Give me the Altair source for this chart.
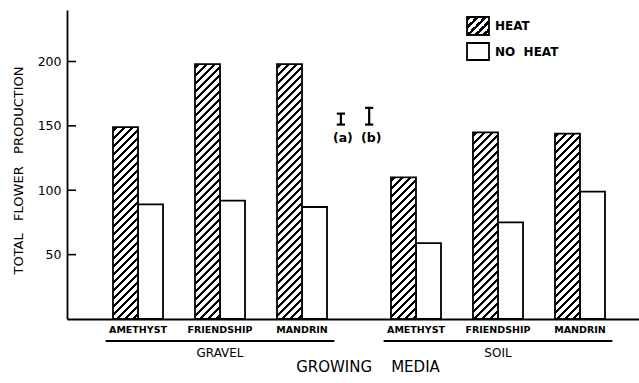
import altair as alt
import pandas as pd

# Total flower production by growing medium, cultivar and heat treatment
media = ["GRAVEL", "SOIL"]
cultivars = ["AMETHYST", "FRIENDSHIP", "MANDRIN"]
heat = [149, 198, 198, 110, 145, 144]        # gravel x3, then soil x3
no_heat = [89, 92, 87, 59, 75, 99]
y_ticks = [50, 100, 150, 200]
lsd_labels = ["(a)", "(b)"]
lsd_values = [8.5, 13]
legend_labels = ["HEAT", "NO\u00a0\u00a0HEAT"]

# plot geometry
W, H = 572, 309
Y_MAX = 240
SLOT_PX = 82.0                 # one cultivar slot on the x scale, in pixels
X_MAX = W / SLOT_PX
FIRST = 0.866                  # centre of the first bar pair (slot units)
GROUP_SHIFT = 3.39             # offset of the soil group
BAR = 0.305                    # bar width (slot units)
PX_PER_Y = H / Y_MAX
BAR_PX = BAR * SLOT_PX
FONT = "DejaVu Sans"
LSD_X0, LSD_DX, LSD_BASE = 3.34, 0.345, 151


def hatch(w, h, period=8.0, ink=3.4, phase=2.0):
    """45-degree '/' hatching as a bbox linear gradient for a w x h px rect."""
    span = w + h
    s = span / (h * (1 + (w / h) ** 2))
    stops = [alt.GradientStop(offset=0, color="white")]
    k = phase
    while k < span:
        a = round(k / span, 5)
        b = round(min((k + ink) / span, 1.0), 5)
        stops += [
            alt.GradientStop(offset=a, color="white"),
            alt.GradientStop(offset=a, color="black"),
            alt.GradientStop(offset=b, color="black"),
            alt.GradientStop(offset=b, color="white"),
        ]
        k += period
    return alt.LinearGradient(gradient="linear", stops=stops,
                              x1=0, y1=0, x2=w / h * s, y2=s)


rows = []
for gi, m in enumerate(media):
    for ci, c in enumerate(cultivars):
        k = gi * 3 + ci
        rows.append({"medium": m, "cultivar": c, "gi": gi, "ci": ci, "k": k,
                     "heat": heat[k], "noheat": no_heat[k]})
pairs = pd.DataFrame(rows)

xs = alt.Scale(domain=[0, X_MAX], nice=False, zero=False)
ys = alt.Scale(domain=[0, Y_MAX], nice=False)

base = alt.Chart(pairs).transform_calculate(
    center=f"{FIRST} + datum.ci + datum.gi * {GROUP_SHIFT}"
)

no_heat_bars = base.transform_calculate(
    x0="datum.center", x1=f"datum.center + {BAR}"
).mark_rect(fill="white", stroke="black", strokeWidth=1.8).encode(
    x=alt.X("x0:Q", scale=xs, axis=alt.Axis(
        labels=False, ticks=False, grid=False, title=None,
        domainColor="black", domainWidth=1.8)),
    x2="x1:Q",
    y=alt.Y("noheat:Q", scale=ys, axis=alt.Axis(
        values=y_ticks, ticks=False, grid=False, labelPadding=6,
        labelFont=FONT, labelFontSize=12.5, labelColor="black",
        domainColor="black", domainWidth=1.8,
        title="TOTAL\u00a0\u00a0\u00a0FLOWER\u00a0\u00a0\u00a0PRODUCTION",
        titleFont=FONT, titleFontSize=13, titleFontWeight="normal",
        titleColor="black", titleAngle=270, titleX=-49, titleY=160,
        titleAlign="center", titleBaseline="middle")),
    y2=alt.datum(0),
)

heat_layers = []
for k, v in enumerate(heat):
    heat_layers.append(
        base.transform_filter(f"datum.k == {k}")
        .transform_calculate(x0=f"datum.center - {BAR}", x1="datum.center")
        .mark_rect(fill=hatch(BAR_PX, v * PX_PER_Y), stroke="black", strokeWidth=1.8)
        .encode(x="x0:Q", x2="x1:Q", y="heat:Q", y2=alt.datum(0))
    )

# inward tick marks on the value axis
tick_marks = alt.Chart(pd.DataFrame({"t": y_ticks})).mark_rule(
    stroke="black", strokeWidth=1.6
).encode(y="t:Q", x=alt.value(0), x2=alt.value(9))

cult_text = base.mark_text(
    font=FONT, fontSize=9.5, fontWeight="bold", baseline="middle", align="center", color="black"
).encode(x="center:Q", y=alt.value(H + 11), text="cultivar:N")

groups = alt.Chart(pd.DataFrame({"medium": media, "gi": [0, 1]})).transform_calculate(
    left=f"{FIRST} - {BAR} - 0.09 + datum.gi * {GROUP_SHIFT}",
    right=f"{FIRST} + 2 + {BAR} + 0.09 + datum.gi * {GROUP_SHIFT}",
).transform_calculate(mid="(datum.left + datum.right) / 2")
underline = groups.mark_rule(strokeWidth=1.8, color="black").encode(
    x="left:Q", x2="right:Q", y=alt.value(H + 22))
group_text = groups.mark_text(font=FONT, fontSize=12, baseline="middle", color="black").encode(
    x="mid:Q", y=alt.value(H + 33.5), text="medium:N")

x_title = alt.Chart(pd.DataFrame({"t": ["GROWING\u00a0\u00a0\u00a0\u00a0MEDIA"]})).mark_text(
    font=FONT, fontSize=15, baseline="middle", color="black"
).encode(x=alt.value(301), y=alt.value(H + 48), text="t:N")

# least significant difference bars
lsd = alt.Chart(pd.DataFrame({"label": lsd_labels, "lsd": lsd_values, "i": [0, 1]})).transform_calculate(
    xpos=f"{LSD_X0} + datum.i * {LSD_DX}",
    lo=f"{LSD_BASE}",
    hi=f"{LSD_BASE} + datum.lsd",
)
lsd_stem = lsd.mark_rule(strokeWidth=2.2, color="black").encode(x="xpos:Q", y="lo:Q", y2="hi:Q")
lsd_caps = lsd.transform_fold(["lo", "hi"], as_=["end", "yv"]).transform_calculate(
    xa="datum.xpos - 0.05", xb="datum.xpos + 0.05"
).mark_rule(strokeWidth=2.2, color="black").encode(x="xa:Q", x2="xb:Q", y="yv:Q")
lsd_text = lsd.mark_text(font=FONT, fontSize=12.5, fontWeight="bold", baseline="middle", dx=2, color="black").encode(
    x="xpos:Q", y=alt.value(128), text="label:N")

# legend
leg_heat_box = alt.Chart(pd.DataFrame({"l": [legend_labels[0]]})).mark_rect(
    fill=hatch(22, 18, phase=1.0), stroke="black", strokeWidth=1.8
).encode(x=alt.value(400), x2=alt.value(422), y=alt.value(7), y2=alt.value(25))
leg_none_box = alt.Chart(pd.DataFrame({"l": [legend_labels[1]]})).mark_rect(
    fill="white", stroke="black", strokeWidth=1.8
).encode(x=alt.value(400), x2=alt.value(422), y=alt.value(33), y2=alt.value(50))
leg_heat_text = alt.Chart(pd.DataFrame({"l": [legend_labels[0]]})).mark_text(
    font=FONT, fontSize=12, fontWeight="bold", align="left", baseline="middle", color="black"
).encode(x=alt.value(428), y=alt.value(16), text="l:N")
leg_none_text = alt.Chart(pd.DataFrame({"l": [legend_labels[1]]})).mark_text(
    font=FONT, fontSize=12, fontWeight="bold", align="left", baseline="middle", color="black"
).encode(x=alt.value(428), y=alt.value(42), text="l:N")

chart = alt.layer(
    no_heat_bars, *heat_layers, tick_marks, cult_text, underline, group_text, x_title,
    lsd_stem, lsd_caps, lsd_text, leg_heat_box, leg_none_box, leg_heat_text, leg_none_text,
).properties(
    width=W, height=H,
    padding={"left": 67, "top": 10, "right": 0, "bottom": 64},
    autosize=alt.AutoSizeParams(type="none"),
    background="white",
).configure_view(stroke=None)

chart.save("out.html", embed_options={"renderer": "svg", "actions": False})
